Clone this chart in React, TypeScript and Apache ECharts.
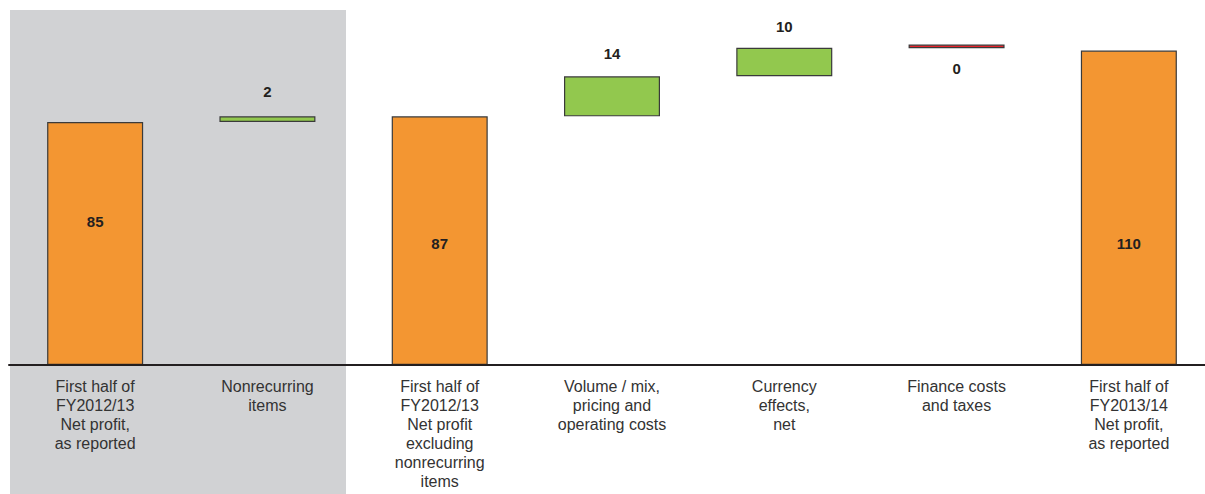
import React, { useEffect, useRef } from "react";
import * as echarts from "echarts";

const categories = [
  "First half of\nFY2012/13\nNet profit,\nas reported",
  "Nonrecurring\nitems",
  "First half of\nFY2012/13\nNet profit\nexcluding\nnonrecurring\nitems",
  "Volume / mix,\npricing and\noperating costs",
  "Currency\neffects,\nnet",
  "Finance costs\nand taxes",
  "First half of\nFY2013/14\nNet profit,\nas reported",
];
const barBase = [0, 85, 0, 87, 101, 110.8, 0];
const barSize = [85, 2, 87, 14, 10, 1.3, 110];
const valueLabels = ["85", "2", "87", "14", "10", "0", "110"];
const barKind = ["total", "increase", "total", "increase", "increase", "decrease", "total"];

const COLORS: Record<string, string> = {
  total: "#F39632",
  increase: "#92C84E",
  decrease: "#E8222A",
};

export default function App() {
  const ref = useRef<HTMLDivElement>(null);
  useEffect(() => {
    if (!ref.current) return;
    const chart = echarts.init(ref.current, undefined, { renderer: "svg" });
    const labelPlacement = (i: number) => {
      const kind = barKind[i];
      if (kind === "total") {
        return { position: "insideBottom", distance: i === 0 ? 136 : 114 };
      }
      if (kind === "decrease") return { position: "bottom", distance: 12 };
      const d = [0, 17, 0, 15, 13][i] ?? 15;
      return { position: "top", distance: d };
    };
    chart.setOption({
      animation: false,
      graphic: [
        {
          type: "rect",
          z: -10,
          silent: true,
          shape: { x: 10, y: 10, width: 336, height: 484 },
          style: { fill: "#D1D2D4" },
        },
      ],
      grid: {
        left: 9,
        top: 22,
        width: 1206,
        height: 343,
        containLabel: false,
        outerBoundsMode: "none",
      },
      xAxis: {
        type: "category",
        data: categories,
        axisLine: { show: true, lineStyle: { color: "#231F20", width: 2 } },
        axisTick: { show: false },
        axisLabel: {
          interval: 0,
          margin: 12,
          color: "#333333",
          fontFamily: "Liberation Sans, Arial, sans-serif",
          fontSize: 16,
          lineHeight: 19,
          align: "center",
        },
        z: 10,
      },
      yAxis: {
        type: "value",
        min: 0,
        max: 120,
        show: false,
        splitLine: { show: false },
      },
      series: [
        {
          type: "bar",
          stack: "wf",
          barWidth: 96,
          silent: true,
          itemStyle: { color: "transparent", borderWidth: 0 },
          data: barBase,
        },
        {
          type: "bar",
          stack: "wf",
          barWidth: 96,
          data: barSize.map((v, i) => {
            const lp = labelPlacement(i);
            return {
              value: v,
              itemStyle: {
                color: COLORS[barKind[i]],
                borderColor: "#3A3A3A",
                borderWidth: 1.2,
              },
              label: {
                show: true,
                formatter: valueLabels[i],
                position: lp.position,
                distance: lp.distance,
                color: "#231F20",
                fontWeight: "bold",
                fontSize: 15,
                lineHeight: 16,
                fontFamily: "Liberation Sans, Arial, sans-serif",
              },
            };
          }),
        },
      ],
    });
    return () => chart.dispose();
  }, []);
  return (
    <div
      ref={ref}
      style={{ position: "absolute", left: 0, top: 0, width: 1205, height: 494 }}
    />
  );
}
